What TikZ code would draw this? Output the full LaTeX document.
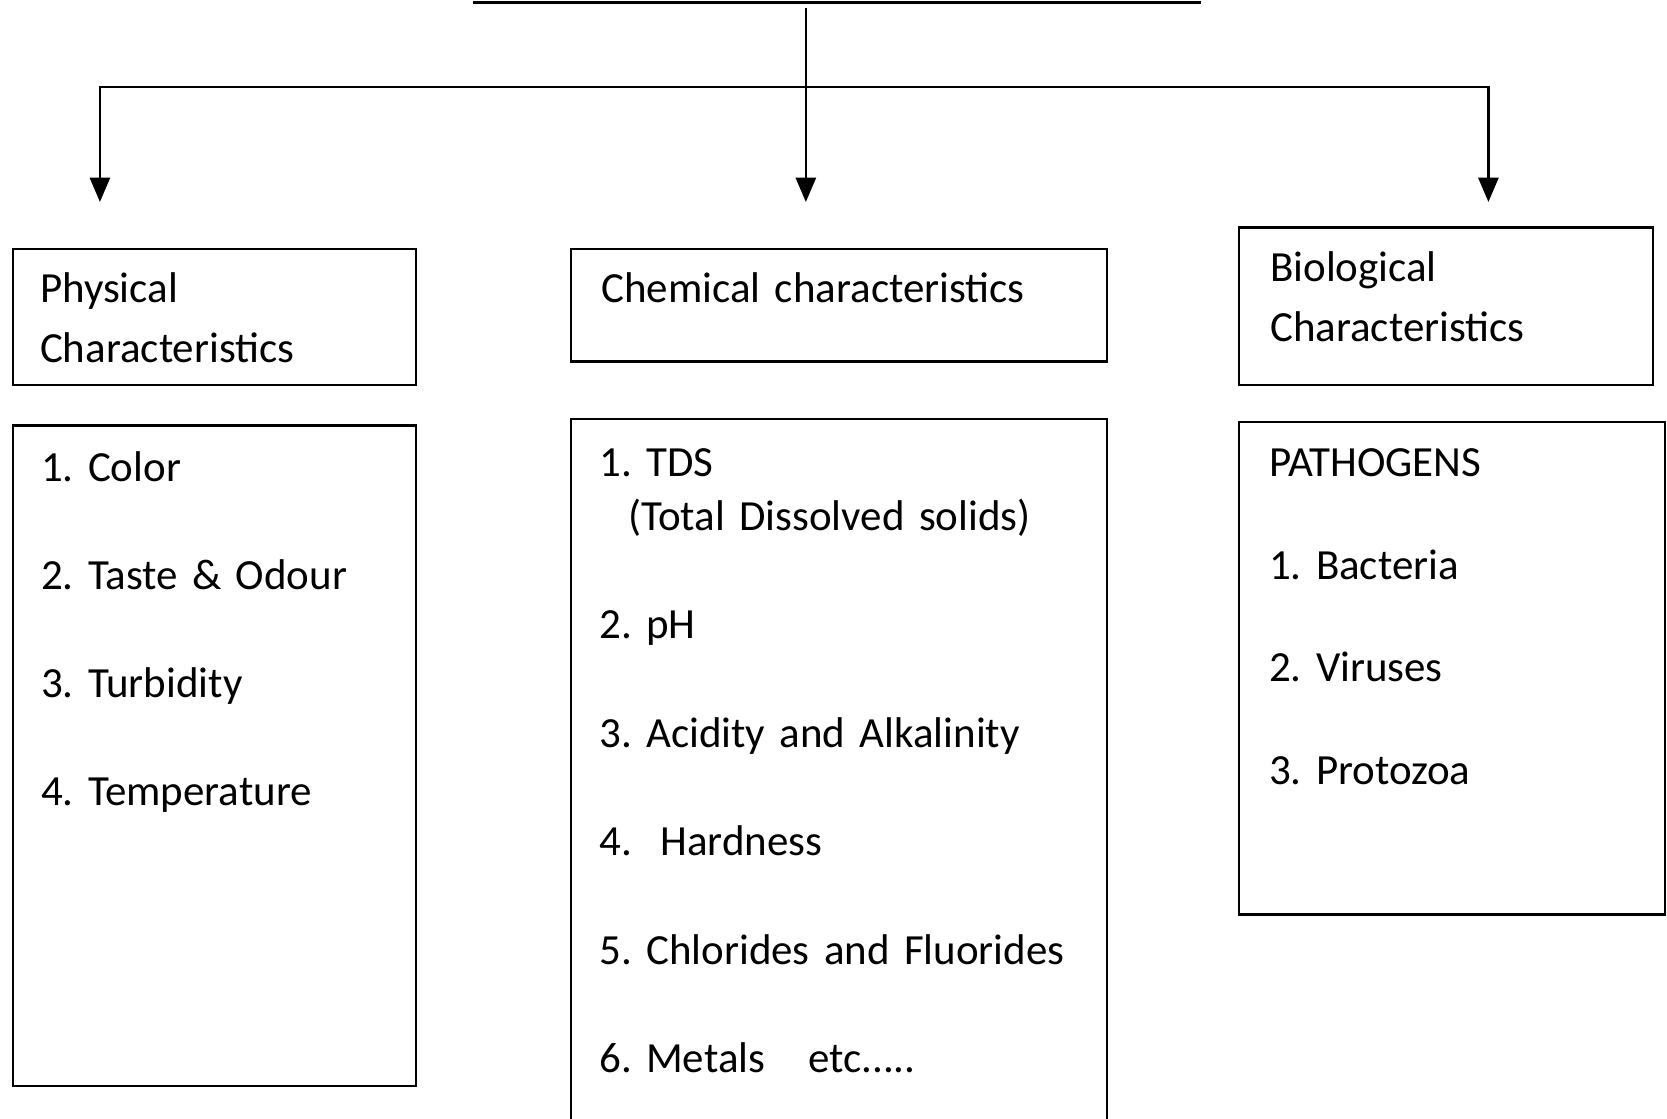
\documentclass[tikz,border=0pt]{standalone}
\usepackage{fontspec}
\setmainfont{Carlito}
\usetikzlibrary{positioning,calc,arrows.meta}
\frenchspacing

\tikzset{
  box/.style={draw, line width=0.6pt, anchor=north west, inner sep=0pt},
  item/.style={anchor=base west, inner sep=0pt, text width=4.8cm, align=left},
  conn/.style={line width=0.65pt, -{Triangle[width=0.19cm,length=0.23cm]}},
}

\begin{document}
\begin{tikzpicture}
  \clip (0,0) rectangle (15.68,-10.52);

  \coordinate (ul1) at (4.45,-0.025);
  \coordinate (ul2) at (11.30,-0.025);
  \coordinate (top) at (7.58,-0.08);
  \coordinate (hub) at (7.58,-0.82);
  \coordinate[below=1.82cm of top] (chemtip);
  \coordinate (phystip) at (0.94,-1.90);
  \coordinate (biotip) at (14.00,-1.90);

  \node[box, minimum width=3.79cm, minimum height=1.28cm] (phys) at (0.11,-2.33) {};
  \node[box, minimum width=3.79cm, minimum height=6.21cm, below=0.36cm of phys.south west, anchor=north west] (physlist) {};
  \node[box, minimum width=5.04cm, minimum height=1.06cm] (chem) at (5.36,-2.33) {};
  \node[box, minimum width=5.04cm, minimum height=7.2cm, below=0.52cm of chem.south west, anchor=north west] (chemlist) {};
  \node[box, minimum width=3.90cm, minimum height=1.48cm] (bio) at (11.64,-2.13) {};
  \node[box, minimum width=4.01cm, minimum height=4.63cm, below=0.33cm of bio.south west, anchor=north west] (biolist) {};

  \node[item, font=\fontsize{11.5}{16}\selectfont] (physname) at ($(phys.north west)+(0.26,-0.52)$) {Physical\\Characteristics};
  \node[item, font=\fontsize{11.5}{16}\selectfont] (chemname) at ($(chem.north west)+(0.29,-0.52)$) {Chemical characteristics};
  \node[item, font=\fontsize{11.5}{16}\selectfont] (bioname) at ($(bio.north west)+(0.30,-0.52)$) {Biological\\Characteristics};

  \node[item, font=\fontsize{11.5}{28.9}\selectfont] (physitems) at ($(physlist.north west)+(0.27,-0.54)$)
    {1. Color\\2. Taste \& Odour\\3. Turbidity\\4. Temperature};
  \node[item, font=\fontsize{11.5}{14.5}\selectfont] (chemitems) at ($(chemlist.north west)+(0.27,-0.55)$)
    {1. TDS\\\hspace*{0.27cm}(Total Dissolved solids)\\[14.5pt]2. pH\\[14.5pt]3. Acidity and Alkalinity\\[14.5pt]4.\ \ Hardness\\[14.5pt]5. Chlorides and Fluorides\\[14.5pt]6. Metals\ \ \ etc.....};
  \node[item, font=\fontsize{11.5}{27.5}\selectfont] (bioitems) at ($(biolist.north west)+(0.29,-0.52)$)
    {PATHOGENS\\1. Bacteria\\2. Viruses\\3. Protozoa};

  \draw[line width=0.9pt] (ul1) -- (ul2);
  \draw[conn] (top) -- (chemtip);
  \draw[conn] (hub) -| (phystip);
  \draw[conn] (hub) -| (biotip);
\end{tikzpicture}
\end{document}
